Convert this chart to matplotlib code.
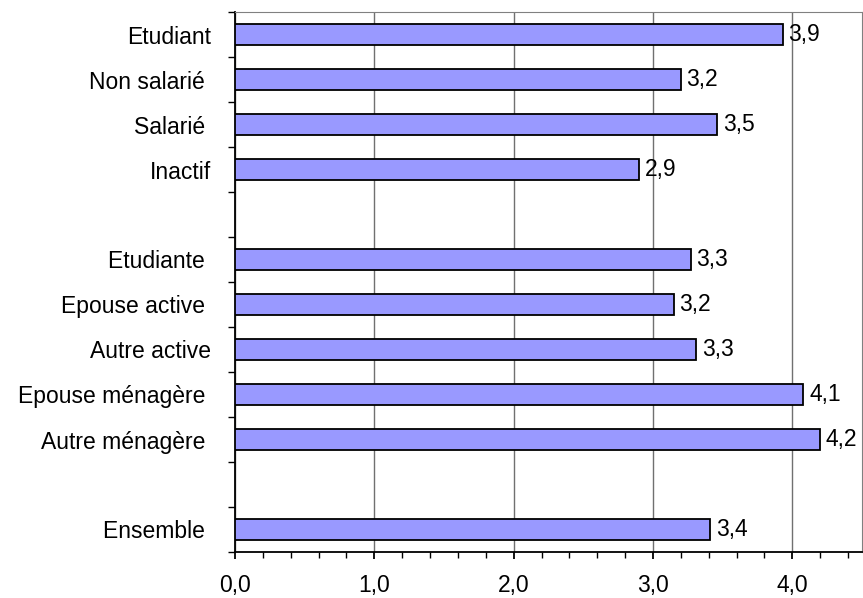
import matplotlib.pyplot as plt
from matplotlib.ticker import MultipleLocator, FuncFormatter

# Groups of categories (top to bottom), one empty slot between groups
group_labels = [
    ['Etudiant', 'Non salarié ', 'Salarié ', 'Inactif'],
    ['Etudiante ', 'Epouse active ', 'Autre active', 'Epouse ménagère ', 'Autre ménagère '],
    ['Ensemble '],
]
group_values = [
    [3.93, 3.20, 3.46, 2.90],
    [3.27, 3.15, 3.31, 4.08, 4.20],
    [3.41],
]
value_labels = [
    ['3,9', '3,2', '3,5', '2,9'],
    ['3,3', '3,2', '3,3', '4,1', '4,2'],
    ['3,4'],
]

plt.rcParams['font.family'] = ['Liberation Sans', 'DejaVu Sans']
FS = 16.5

# slot positions, counting from the top
labels, values, texts, slots = [], [], [], []
slot = 0
for gl, gv, gt in zip(group_labels, group_values, value_labels):
    for l, v, t in zip(gl, gv, gt):
        labels.append(l)
        values.append(v)
        texts.append(t)
        slots.append(slot)
        slot += 1
    slot += 1
n_slots = slot - 1

fig = plt.figure(figsize=(8.63, 5.98), dpi=100)
ax = fig.add_axes([235 / 863, 1 - 552 / 598, 627 / 863, 540 / 598])

ypos = [s + 0.5 for s in slots]
ax.barh(ypos, values, height=0.45, color='#9999ff', edgecolor='black', linewidth=1.3, zorder=3)
for y, v, t in zip(ypos, values, texts):
    ax.text(v + 0.04, y, t, va='center', ha='left', fontsize=FS, zorder=4)

ax.set_xlim(0, 4.5)
ax.set_ylim(n_slots, 0)

ax.xaxis.set_major_locator(MultipleLocator(1))
ax.xaxis.set_minor_locator(MultipleLocator(0.2))
ax.xaxis.set_major_formatter(FuncFormatter(lambda x, p: f'{x:.1f}'.replace('.', ',')))
ax.grid(axis='x', which='major', color='#707070', linewidth=1.0, zorder=0)

# y ticks at slot boundaries, labels in slot centers
ax.set_yticks(range(n_slots + 1))
ax.set_yticklabels([])
ax.set_yticks(ypos, minor=True)
ax.set_yticklabels(labels, minor=True, fontsize=FS)
ax.tick_params(axis='y', which='major', direction='out', length=5, width=1)
ax.tick_params(axis='y', which='minor', length=0, pad=17)
ax.tick_params(axis='x', which='major', direction='out', length=5, width=1.3, labelsize=FS, pad=11)
ax.tick_params(axis='x', which='minor', direction='out', length=4, width=1)

ax.spines['left'].set_linewidth(1.3)
ax.spines['bottom'].set_linewidth(1.3)
ax.spines['top'].set_color('#808080')
ax.spines['right'].set_color('#808080')

fig.savefig('out.png', dpi=100)
